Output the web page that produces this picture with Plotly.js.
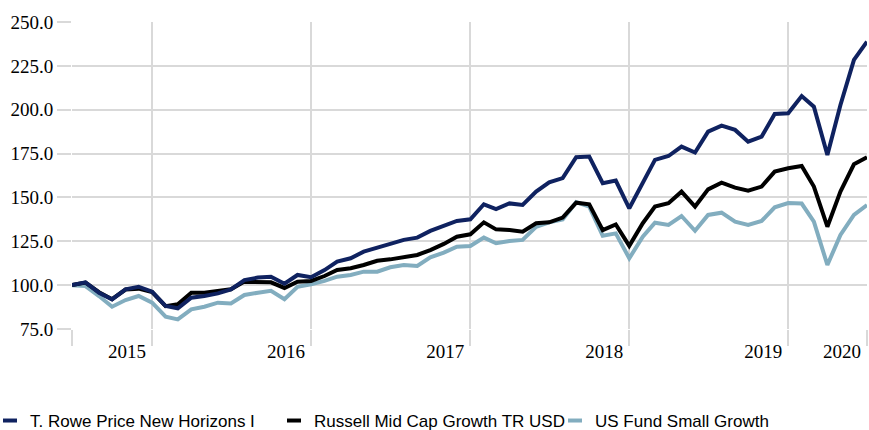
<!DOCTYPE html>
<html>
<head>
<meta charset="utf-8">
<script src="https://cdn.plot.ly/plotly-3.0.1.min.js"></script>
<style>html,body{margin:0;padding:0;background:#fff;}#chart{width:869px;height:430px;}</style>
</head>
<body>
<div id="chart"></div>
<script>
// Monthly dates (month-end), Jun 2014 – Jun 2020
const months = [];
for (let y = 2014, m = 6; months.length < 61; ) {
  const last = new Date(Date.UTC(y, m, 0)).getUTCDate();
  months.push(y + '-' + String(m).padStart(2, '0') + '-' + String(last).padStart(2, '0'));
  m++; if (m > 12) { m = 1; y++; }
}

const seriesNames = ['T. Rowe Price New Horizons I', 'Russell Mid Cap Growth TR USD', 'US Fund Small Growth'];

const newHorizons = [100.0,101.6,95.7,91.9,97.6,99.1,96.3,88.1,86.8,92.8,93.8,95.3,97.6,102.9,104.3,104.8,100.8,105.8,104.5,108.6,113.4,115.3,119.1,121.6,123.5,125.8,127.1,130.9,133.7,136.6,137.5,146.1,143.4,146.6,145.7,153.3,158.6,161.0,172.9,173.3,158.1,159.6,143.8,158.5,171.4,173.6,179.0,175.6,187.5,190.9,188.5,181.8,184.7,197.6,198.0,207.8,201.7,174.2,202.7,228.4,238.8];
const russellMidGrowth = [100.0,101.5,96.0,92.0,97.5,98.0,96.0,88.0,89.1,95.7,95.7,96.8,97.6,102.0,101.6,101.6,98.4,102.0,102.4,105.2,108.6,109.6,111.5,113.9,114.7,116.2,117.2,120.0,123.5,127.6,129.0,135.8,131.8,131.4,130.5,135.3,135.8,138.5,147.0,146.1,131.4,134.6,122.4,135.3,144.8,146.7,153.3,144.8,154.6,158.4,155.6,153.9,156.2,164.7,166.6,167.9,156.2,133.3,153.3,168.9,172.9];
const smallGrowth = [100.0,99.5,93.8,87.7,91.5,93.8,90.0,82.0,80.5,86.2,87.7,90.0,89.6,94.4,95.7,96.8,92.0,99.0,100.5,102.4,104.8,105.8,107.7,107.7,110.2,111.5,110.9,115.8,118.5,121.9,122.3,127.1,123.9,125.2,125.8,133.3,135.8,137.5,147.3,144.8,128.2,129.5,115.3,127.6,135.6,134.3,139.4,131.0,140.0,141.3,136.2,134.3,136.6,144.4,146.8,146.5,136.2,111.5,128.6,140.0,145.7];

const yearTickIdx = [0, 6, 18, 30, 42, 54, 60];
const yearTickText = ['', '2015', '2016', '2017', '2018', '2019', '2020'];
const yTicks = [75, 100, 125, 150, 175, 200, 225, 250];

const colors = ['#0f2260', '#000000', '#82adbf'];
const values = [newHorizons, russellMidGrowth, smallGrowth];
const legendIds = ['legend', 'legend2', 'legend3'];

const traces = [];
// draw order: light blue, black, navy on top
[2, 1, 0].forEach(i => {
  traces.push({x: months, y: values[i], type: 'scatter', mode: 'lines', name: seriesNames[i],
    line: {color: colors[i], width: 4}, showlegend: false, hoverinfo: 'skip'});
});
[0, 1, 2].forEach(i => {
  traces.push({x: [null], y: [null], type: 'scatter', mode: 'markers', name: seriesNames[i],
    legend: legendIds[i],
    marker: {symbol: 'line-ew', size: 10, color: colors[i], line: {color: colors[i], width: 4}},
    showlegend: true, hoverinfo: 'skip'});
});

const serif = 'Liberation Serif, Times New Roman, DejaVu Serif, serif';
const legendFont = {family: 'Liberation Sans, Arial, sans-serif', size: 17, color: '#000'};
function mkLegend(x, indent) {
  return {
    orientation: 'h', xref: 'container', yref: 'container',
    x: x, y: 0.021, xanchor: 'left', yanchor: 'middle',
    indentation: indent, bgcolor: 'rgba(0,0,0,0)',
    font: legendFont, itemclick: false, itemdoubleclick: false
  };
}

const layout = {
  width: 869, height: 430,
  margin: {l: 72, r: 2, t: 22, b: 101},
  paper_bgcolor: '#fff', plot_bgcolor: '#fff',
  showlegend: true,
  xaxis: {
    type: 'date',
    range: [months[0], months[60]],
    tickvals: yearTickIdx.map(i => months[i]),
    ticktext: yearTickText,
    ticklabelposition: 'outside left',
    ticklabelstandoff: 5,
    ticklabelshift: -5,
    ticks: 'outside', ticklen: 16, tickwidth: 2, tickcolor: '#d9d9d9',
    showgrid: true, gridcolor: '#d9d9d9', gridwidth: 2,
    zeroline: false, showline: false,
    tickfont: {family: serif, size: 19, color: '#000'}
  },
  yaxis: {
    range: [75, 250],
    tickvals: yTicks,
    tickformat: '.1f',
    ticks: 'outside', ticklen: 14, tickwidth: 2, tickcolor: '#d9d9d9',
    showgrid: true, gridcolor: '#d9d9d9', gridwidth: 2,
    zeroline: false, showline: false,
    tickfont: {family: serif, size: 19, color: '#000'}
  },
  legend: mkLegend(0, -10),
  legend2: mkLegend(274 / 869, 0),
  legend3: mkLegend(555 / 869, 0)
};

Plotly.newPlot('chart', traces, layout, {displayModeBar: false, staticPlot: true});
</script>
</body>
</html>
